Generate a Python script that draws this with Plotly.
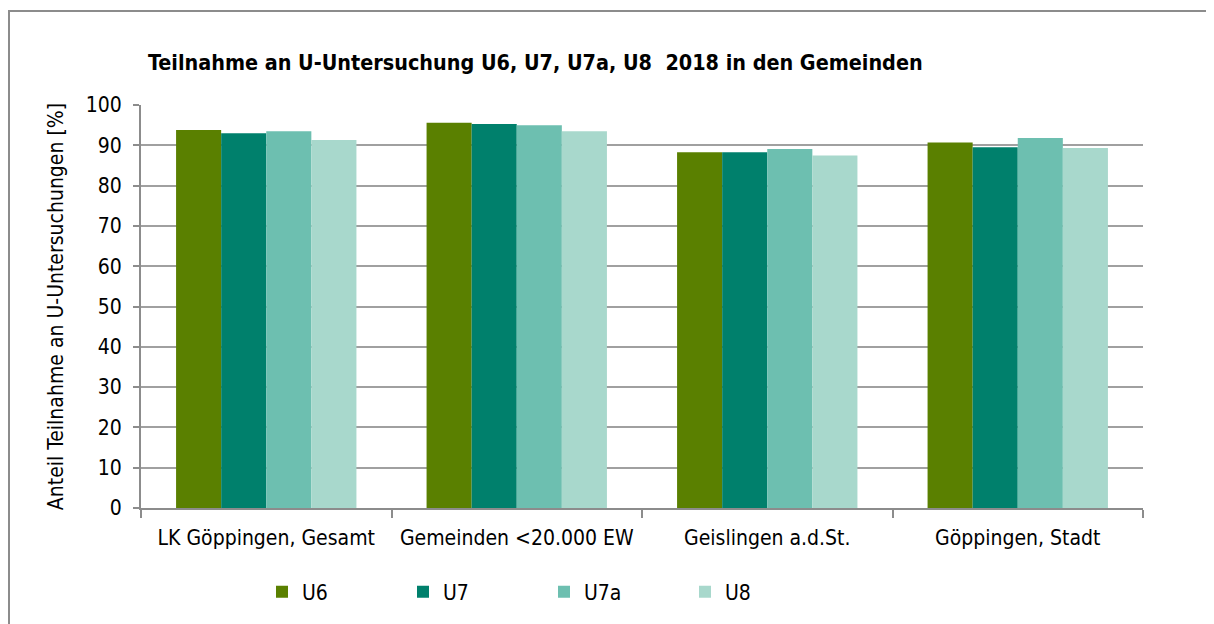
import plotly.graph_objects as go

categories = ["LK Göppingen, Gesamt", "Gemeinden <20.000 EW", "Geislingen a.d.St.", "Göppingen, Stadt"]
series_names = ["U6", "U7", "U7a", "U8"]
u6 = [93.8, 95.6, 88.3, 90.7]
u7 = [93.0, 95.3, 88.3, 89.5]
u7a = [93.5, 95.0, 89.1, 91.8]
u8 = [91.3, 93.5, 87.5, 89.3]
colors = ["#5A8000", "#00806C", "#6DBFB0", "#A8D8CC"]

FONT = "DejaVu Sans Condensed, Liberation Sans Narrow, Arial Narrow, sans-serif"

fig = go.Figure()
for name, vals, col in zip(series_names, [u6, u7, u7a, u8], colors):
    fig.add_trace(go.Bar(x=categories, y=vals, name=name, marker=dict(color=col, line=dict(width=0))))

# page body has an 8px margin, so figure coordinates are page coordinates minus 8
OFF = 8
W, H = 1214 - OFF, 624 - OFF
L, R, T, B = 141 - OFF, 1143 - OFF, 105 - OFF, 508 - OFF
fig.update_layout(
    width=W, height=H,
    margin=dict(l=L, r=W - R, t=T, b=H - B),
    paper_bgcolor="white", plot_bgcolor="white",
    barmode="group", bargap=0.28, bargroupgap=0,
    font=dict(family=FONT, size=21, color="black"),
    title=dict(text="<b>Teilnahme an U-Untersuchung U6, U7, U7a, U8  2018 in den Gemeinden</b>",
               x=(148 - OFF) / W, xanchor="left", y=1 - (63 - OFF) / H, yanchor="middle",
               font=dict(family=FONT, size=21.4, color="black")),
    legend=dict(orientation="h", x=(262 - 141) / (1143 - 141), xanchor="left",
                y=(B - (592 - OFF)) / (B - T), yanchor="middle",
                entrywidth=96, entrywidthmode="pixels", itemwidth=30, font=dict(size=21),
                traceorder="normal"),
    showlegend=True,
)
fig.update_xaxes(showline=True, linecolor="#8c8c8c", linewidth=2, ticks="outside", tickson="boundaries",
                 ticklen=8, tickcolor="#8c8c8c", tickwidth=2, showgrid=False,
                 ticklabelstandoff=10, tickfont=dict(size=21))
fig.update_yaxes(range=[0, 100], dtick=10, showline=True, linecolor="#8c8c8c", linewidth=2,
                 ticks="outside", ticklen=6, tickcolor="#8c8c8c", tickwidth=2,
                 showgrid=True, gridcolor="#a0a0a0", gridwidth=2, zeroline=False,
                 ticklabelstandoff=7, tickfont=dict(size=21),
                 title=dict(text="Anteil Teilnahme an U-Untersuchungen [%]", standoff=16, font=dict(size=21)))

# outer border (chart area frame)
fig.add_shape(type="rect", xref="paper", yref="paper",
              x0=(1 - L) / (R - L), x1=(W + 30 - L) / (R - L),
              y0=(B - (H + 30)) / (B - T), y1=(B - 3) / (B - T),
              line=dict(color="#8c8c8c", width=2), fillcolor="rgba(0,0,0,0)", layer="below")

fig.write_html("out.html")
